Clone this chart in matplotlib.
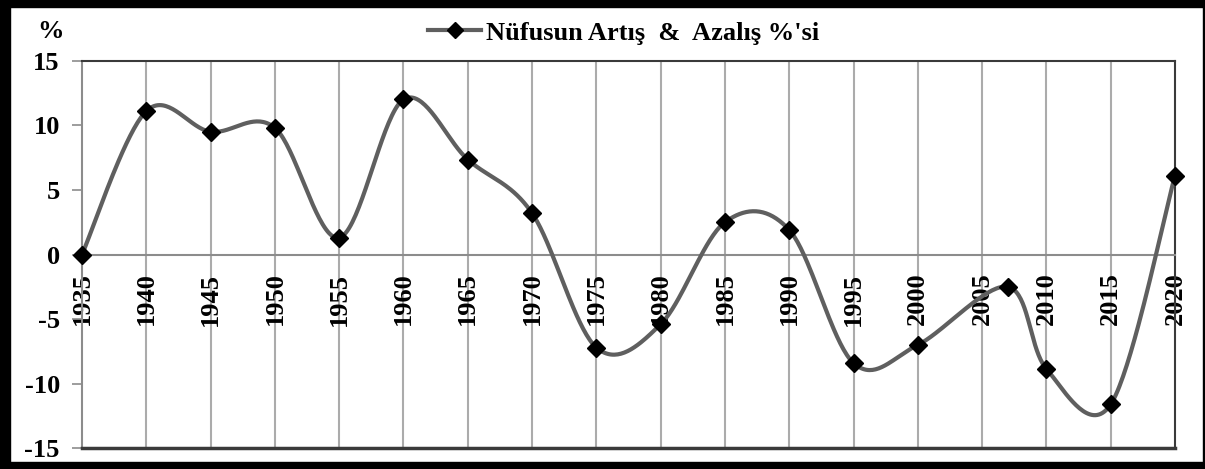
import numpy as np
import matplotlib
matplotlib.use("Agg")
import matplotlib.pyplot as plt
from matplotlib.patches import Rectangle
from matplotlib.lines import Line2D

years = [1935, 1940, 1945, 1950, 1955, 1960, 1965, 1970, 1975, 1980,
         1985, 1990, 1995, 2000, 2007, 2010, 2015, 2020]
values = [0.0, 11.1, 9.5, 9.8, 1.3, 12.0, 7.35, 3.2, -7.2, -5.4,
          2.5, 1.9, -8.4, -7.0, -2.5, -8.85, -11.6, 6.1]
tick_years = list(range(1935, 2021, 5))
y_ticks = [-15, -10, -5, 0, 5, 10, 15]
series_name = "Nüfusun Artış  &  Azalış %'si"

plt.rcParams['font.family'] = ['Liberation Serif', 'DejaVu Serif']
plt.rcParams['font.weight'] = 'bold'
FS = 19

W, H = 1205, 469
fig = plt.figure(figsize=(W / 100, H / 100), dpi=100)
ax = fig.add_axes([82 / W, 1 - 448.3 / H, (1175 - 82) / W, (448.3 - 60.7) / H])


def excel_smooth(x, y, n=40):
    x = np.asarray(x, float)
    y = np.asarray(y, float)
    P = np.column_stack([x, y])
    out = [P[0]]
    N = len(P)
    for i in range(N - 1):
        p0 = P[i - 1] if i > 0 else P[i]
        p1 = P[i]
        p2 = P[i + 1]
        p3 = P[i + 2] if i + 2 < N else P[i + 1]
        b1 = p1 + (p2 - p0) / 6.0
        b2 = p2 - (p3 - p1) / 6.0
        t = np.linspace(0, 1, n)[1:, None]
        seg = ((1 - t) ** 3) * p1 + 3 * ((1 - t) ** 2) * t * b1 + 3 * (1 - t) * t ** 2 * b2 + t ** 3 * p2
        out.extend(seg)
    out = np.array(out)
    return out[:, 0], out[:, 1]


sx, sy = excel_smooth(years, values)
line_col = '#5f5f5f'
ax.plot(sx, sy, color=line_col, lw=3, zorder=3, solid_capstyle='round')
ax.plot(years, values, linestyle='none', marker='D', ms=9.5, color='black', zorder=6, clip_on=False)

ax.set_xlim(1935, 2020)
ax.set_ylim(-15, 15)

# vertical gridlines
for yr in tick_years[1:-1]:
    ax.axvline(yr, color='#ababab', lw=1.5, zorder=1)

# spines
ax.spines['bottom'].set_position(('data', 0))
ax.spines['bottom'].set_color('#8c8c8c')
ax.spines['bottom'].set_linewidth(1.5)
ax.spines['left'].set_color('#8c8c8c')
ax.spines['left'].set_linewidth(1.5)
ax.spines['top'].set_color('#3a3a3a')
ax.spines['top'].set_linewidth(1.5)
ax.spines['right'].set_color('#3a3a3a')
ax.spines['right'].set_linewidth(1.5)
ax.axhline(-15, color='#3a3a3a', lw=2.5, zorder=5, clip_on=False)

ax.set_xticks(tick_years)
ax.set_xticklabels([str(t) for t in tick_years], rotation=90, fontsize=FS, fontweight='bold')
ax.tick_params(axis='x', length=0, pad=13)
for lab in ax.get_xticklabels():
    lab.set_va('top')

ax.set_yticks(y_ticks)
ax.set_yticklabels([str(v) for v in y_ticks], fontsize=FS, fontweight='bold')
ax.tick_params(axis='y', length=7, width=1.2, color='#8c8c8c', pad=9, direction='out')

fig.text(50 / W, 1 - 31 / H, '%', fontsize=FS, fontweight='bold', ha='center', va='center')

handle = Line2D([], [], color=line_col, lw=3, marker='D', ms=8,
                markerfacecolor='black', markeredgecolor='black')
fig.legend([handle], [series_name], loc='center', bbox_to_anchor=(624 / W, 1 - 33 / H),
           frameon=False, prop={'size': FS, 'weight': 'bold'}, handlelength=2.0,
           handletextpad=0.2, borderpad=0)

# thick black border around figure
for (x0, y0, w, h) in [(0, 0, 10, H), (0, 0, W, 7), (0, H - 7, W, 7), (W - 2, 0, 2, H)]:
    fig.add_artist(Rectangle((x0 / W, 1 - (y0 + h) / H), w / W, h / H,
                             transform=fig.transFigure, color='black', zorder=10))

fig.savefig('out.png', dpi=100)
